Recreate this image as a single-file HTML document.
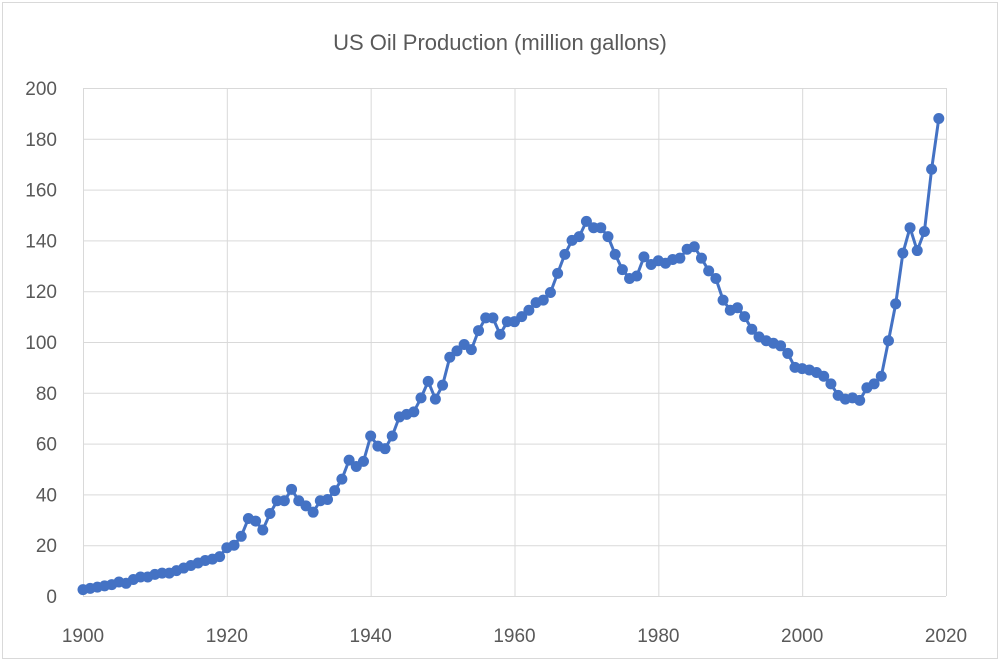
<!DOCTYPE html>
<html><head><meta charset="utf-8"><style>
html,body{margin:0;padding:0;background:#fff;}
svg{display:block;font-family:"Liberation Sans",sans-serif;}
</style></head><body>
<svg id="s" width="1000" height="663" viewBox="0 0 1000 663">
<rect x="2.5" y="2.5" width="995" height="656" fill="#fff" stroke="#d9d9d9" stroke-width="1"/>
<text x="500" y="50" text-anchor="middle" font-size="22" fill="#595959">US Oil Production (million gallons)</text>
<g id="grid" stroke="#d9d9d9" stroke-width="1"></g>
<g id="labels" font-size="19" fill="#595959"></g>
<polyline id="line" fill="none" stroke="#4472C4" stroke-width="3" stroke-linejoin="round"/>
<g id="dots" fill="#4472C4"></g>
</svg>
<script>
var x0=83,x1=946,y0=596,y1=88;
function X(v){return x0+(v-1900)*(x1-x0)/120}
function Y(v){return y0-(v)*(y0-y1)/200}
var ns="http://www.w3.org/2000/svg",g=document.getElementById('grid'),lb=document.getElementById('labels');
function el(t,a,p){var e=document.createElementNS(ns,t);for(var k in a)e.setAttribute(k,a[k]);p.appendChild(e);return e}
for(var v=0;v<=200;v+=20){var y=Y(v);el('line',{x1:x0,x2:x1,y1:y+.5,y2:y+.5},g);var t=el('text',{x:57,y:y+7,'text-anchor':'end'},lb);t.textContent=v;}
for(var yr=1900;yr<=2020;yr+=20){var x=X(yr);el('line',{x1:x+.5,x2:x+.5,y1:y1,y2:y0},g);var t=el('text',{x:x,y:642,'text-anchor':'middle'},lb);t.textContent=yr;}
var d=[2.5,3,3.5,4,4.5,5.5,5,6.5,7.5,7.5,8.5,9,9,10,11,12,13,14,14.5,15.5,19,20,23.5,30.5,29.5,26,32.5,37.5,37.5,42,37.5,35.5,33,37.5,38,41.5,46,53.5,51,53,63,59,58,63,70.5,71.5,72.5,78,84.5,77.5,83,94,96.5,99,97,104.5,109.5,109.5,103,108,108,110,112.5,115.5,116.5,119.5,127,134.5,140,141.5,147.5,145,145,141.5,134.5,128.5,125,126,133.5,130.5,132,131,132.5,133,136.5,137.5,133,128,125,116.5,112.5,113.5,110,105,102,100.5,99.5,98.5,95.5,90,89.5,89,88,86.5,83.5,79,77.5,78,77,82,83.5,86.5,100.5,115,135,145,136,143.5,168,188];
var pts=[],dg=document.getElementById('dots');
d.forEach(function(v,i){var x=X(1900+i),y=Y(v);pts.push(x.toFixed(1)+','+y.toFixed(1));el('circle',{cx:x,cy:y,r:5.5},dg);});
document.getElementById('line').setAttribute('points',pts.join(' '));
</script>
</body></html>
